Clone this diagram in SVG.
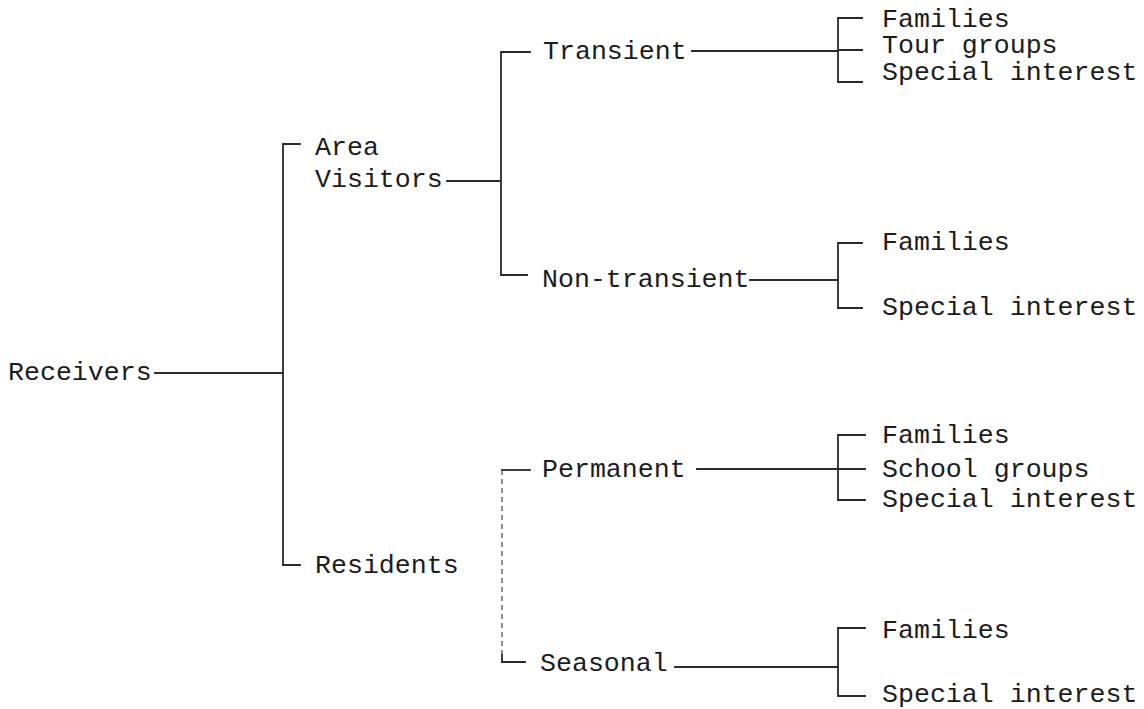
<svg xmlns="http://www.w3.org/2000/svg" width="1144" height="709" viewBox="0 0 1144 709">
<style>
text{font-family:"Liberation Mono","Courier New",monospace;font-size:26.6px;fill:#1c1c1c}
.c{stroke:#2a2a2a;stroke-width:1.8;fill:none;stroke-linecap:square}
.d{stroke:#555;stroke-width:1.3;fill:none;stroke-dasharray:5 4}
</style>
<rect width="1144" height="709" fill="#fff"/>
<g id="connectors">
<path class="c" d="M155 373H283"/>
<path class="c" d="M300 144H283V565H300"/>
<path class="c" d="M447 181H500"/>
<path class="c" d="M530 52H501V275H527"/>
<path class="c" d="M692 51H838"/>
<path class="c" d="M862 18H838V82H862M838 50H862"/>
<path class="c" d="M750 280H838"/>
<path class="c" d="M862 243H838V308H862"/>
<path class="c" d="M530 470H502"/>
<path class="d" d="M502 470V662"/>
<path class="c" d="M502 655V662H525"/>
<path class="c" d="M697 469H838"/>
<path class="c" d="M865 435H838V500H865M838 469H865"/>
<path class="c" d="M675 667H838"/>
<path class="c" d="M865 628H838V696H865"/>
</g>
<g id="receivers"><text x="8" y="380">Receivers</text></g>
<g id="area-visitors"><text x="315" y="155">Area</text><text x="315" y="187">Visitors</text></g>
<g id="residents"><text x="315" y="573">Residents</text></g>
<g id="transient"><text x="543" y="59">Transient</text></g>
<g id="non-transient"><text x="542" y="287">Non-transient</text></g>
<g id="permanent"><text x="542" y="477">Permanent</text></g>
<g id="seasonal"><text x="540" y="671">Seasonal</text></g>
<g id="transient-families"><text x="882" y="27">Families</text></g>
<g id="transient-tour"><text x="882" y="53">Tour groups</text></g>
<g id="transient-special"><text x="882" y="80">Special interest</text></g>
<g id="nontransient-families"><text x="882" y="250">Families</text></g>
<g id="nontransient-special"><text x="882" y="315">Special interest</text></g>
<g id="permanent-families"><text x="882" y="443">Families</text></g>
<g id="permanent-school"><text x="882" y="477">School groups</text></g>
<g id="permanent-special"><text x="882" y="507">Special interest</text></g>
<g id="seasonal-families"><text x="882" y="638">Families</text></g>
<g id="seasonal-special"><text x="882" y="702">Special interest</text></g>
</svg>
